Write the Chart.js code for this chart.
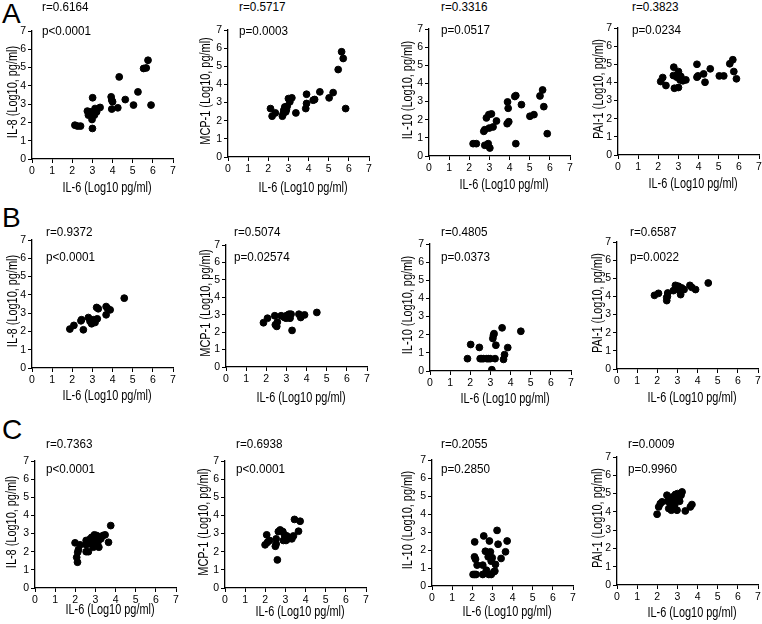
<!DOCTYPE html>
<html>
<head>
<meta charset="utf-8">
<script src="https://cdn.jsdelivr.net/npm/chart.js@4.4.1/dist/chart.umd.min.js"></script>
<style>
  html, body { margin: 0; padding: 0; background: #fff; overflow: hidden; }
  #fig { position: relative; width: 762px; height: 624px; }
  #fig canvas { position: absolute; }
  .txt, .title { position: absolute; font-family: 'Liberation Sans', Arial, sans-serif; line-height: 16px; color: #000; white-space: nowrap; }
  .txt { font-size: 13px; transform-origin: 0 50%; transform: scaleX(0.9); }
  .title { font-size: 14px; }
  .letter { position: absolute; font-family: 'Liberation Sans', Arial, sans-serif; font-size: 28px; line-height: 28px; color: #000; }
</style>
</head>
<body>
<div id="fig"></div>
<script>
// x = IL-6, y = cytokine (both Log10 pg/ml)
const A_IL8 = [[2.13,1.85],[2.26,1.8],[2.41,1.8],[2.75,2.62],[2.8,2.4],[2.88,2.58],[2.91,2.49],[2.98,2.16],[3.0,1.67],[3.01,3.35],[3.05,2.58],[3.1,2.4],[3.13,2.76],[3.21,2.58],[3.38,2.82],[3.93,3.4],[3.96,3.22],[4.0,3.13],[3.96,2.73],[4.26,2.8],[4.33,4.49],[4.63,3.25],[5.04,2.95],[5.26,3.67],[5.54,4.95],[5.67,4.98],[5.76,5.4],[5.91,2.95]]
const A_MCP1 = [[2.11,2.67],[2.19,2.25],[2.35,2.43],[2.7,2.25],[2.74,2.39],[2.77,2.58],[2.82,2.76],[2.87,2.49],[2.9,2.62],[2.94,2.8],[3.0,3.22],[3.07,3.04],[3.17,3.26],[3.37,2.43],[3.86,2.67],[3.9,3.46],[3.9,2.95],[4.23,3.13],[4.3,3.17],[4.56,3.59],[5.02,3.26],[5.22,3.55],[5.47,4.82],[5.64,5.8],[5.72,5.43],[5.84,2.67]]
const A_IL10 = [[2.19,0.68],[2.35,0.68],[2.72,1.36],[2.77,1.45],[2.77,0.59],[2.85,2.1],[2.94,0.68],[2.97,2.28],[2.99,1.54],[3.02,0.44],[3.1,2.32],[3.18,1.6],[3.35,1.93],[3.88,1.78],[3.9,2.98],[3.93,2.63],[3.96,1.89],[4.26,3.28],[4.31,3.33],[4.31,0.68],[4.59,2.83],[5.01,2.19],[5.21,2.28],[5.51,3.31],[5.64,3.64],[5.7,2.72],[5.87,1.23]]
const A_PAI1 = [[2.12,4.05],[2.22,4.27],[2.38,3.83],[2.75,4.38],[2.77,4.84],[2.8,3.68],[2.92,4.29],[3.0,4.6],[3.03,4.42],[3.0,3.72],[3.08,4.14],[3.12,4.33],[3.22,4.09],[3.37,4.14],[3.92,5.0],[3.92,4.29],[3.97,4.36],[4.25,4.47],[4.32,4.01],[4.58,4.75],[5.03,4.36],[5.25,4.36],[5.55,5.03],[5.7,5.25],[5.75,4.6],[5.88,4.2]]

const B_IL8 = [[1.88,2.13],[2.08,2.33],[2.43,2.58],[2.46,2.64],[2.55,2.09],[2.8,2.76],[2.88,2.55],[2.96,2.42],[3.05,2.64],[3.13,2.49],[3.24,2.69],[3.21,3.31],[3.29,3.24],[3.68,2.91],[3.68,3.36],[3.74,3.27],[3.88,3.18],[4.58,3.82]]
const B_MCP1 = [[1.86,2.54],[2.06,2.8],[2.42,2.94],[2.45,2.42],[2.52,2.33],[2.55,2.58],[2.74,2.94],[2.9,2.84],[2.99,2.8],[3.02,2.96],[3.13,3.03],[3.18,2.8],[3.23,3.03],[3.28,2.1],[3.62,3.03],[3.71,2.84],[3.9,2.99],[4.51,3.13]]
const B_IL10 = [[1.86,0.68],[2.02,1.46],[2.45,1.3],[2.49,0.68],[2.57,0.68],[2.65,0.68],[2.82,0.68],[2.9,0.68],[2.99,0.68],[3.07,0.07],[3.12,1.79],[3.15,1.97],[3.18,2.06],[3.23,0.68],[3.27,1.42],[3.58,2.38],[3.65,0.64],[3.7,0.9],[3.86,1.29],[4.51,2.19]]
const B_PAI1 = [[1.86,4.06],[2.06,4.17],[2.47,3.77],[2.47,3.94],[2.5,4.0],[2.52,4.19],[2.8,4.32],[2.9,4.61],[3.05,4.56],[3.1,4.32],[3.16,4.1],[3.21,4.47],[3.33,4.38],[3.62,4.61],[3.71,4.5],[3.9,4.38],[4.53,4.74]]

const C_IL8 = [[1.99,2.49],[2.07,1.69],[2.11,1.42],[2.12,1.97],[2.16,2.12],[2.24,2.38],[2.54,2.62],[2.54,2.38],[2.54,2.0],[2.65,2.0],[2.74,2.71],[2.77,2.43],[2.82,2.8],[2.87,2.43],[2.9,2.25],[2.95,2.93],[2.99,2.62],[3.03,2.8],[3.07,2.89],[3.12,2.52],[3.17,2.25],[3.27,2.71],[3.37,2.89],[3.48,2.93],[3.65,2.52],[3.76,3.44]]
const C_MCP1 = [[1.99,2.38],[2.07,2.93],[2.11,2.52],[2.21,2.62],[2.5,2.3],[2.54,2.71],[2.54,2.43],[2.6,1.55],[2.65,3.11],[2.74,3.2],[2.87,3.11],[2.9,2.62],[2.95,2.93],[3.03,2.62],[3.07,2.87],[3.15,2.71],[3.23,2.76],[3.32,2.71],[3.4,2.87],[3.45,3.78],[3.65,3.13],[3.73,3.68]]
const C_IL10 = [[2.04,0.64],[2.12,0.64],[2.19,0.64],[2.12,2.45],[2.11,1.62],[2.16,1.49],[2.24,1.16],[2.52,1.16],[2.52,0.64],[2.57,2.78],[2.65,1.93],[2.7,0.88],[2.79,1.62],[2.85,2.5],[2.9,1.9],[2.94,1.38],[2.99,1.57],[2.82,0.64],[2.94,0.64],[3.07,0.79],[3.12,0.83],[3.15,1.2],[3.23,3.09],[3.28,2.32],[3.43,1.53],[3.65,1.9],[3.73,2.5]]
const C_PAI1 = [[1.99,3.87],[2.07,4.27],[2.15,4.45],[2.24,4.55],[2.48,4.91],[2.52,4.58],[2.57,4.18],[2.62,4.69],[2.65,4.45],[2.7,4.09],[2.73,4.33],[2.76,4.82],[2.81,4.55],[2.86,4.36],[2.9,4.95],[2.95,4.69],[2.98,4.09],[3.01,5.0],[3.06,4.76],[3.11,4.58],[3.18,4.91],[3.23,5.09],[3.39,4.05],[3.64,4.27],[3.72,4.4]]

const yTitles = ["IL-8 (Log10, pg/ml)", "MCP-1 (Log10, pg/ml)", "IL-10 (Log10, pg/ml)", "PAI-1 (Log10, pg/ml)"]
const xTitle = "IL-6 (Log10 pg/ml)"
const tickValues = [0, 1, 2, 3, 4, 5, 6, 7]
const rowLetters = ["A", "B", "C"]
const rValues = [["0.6164", "0.5717", "0.3316", "0.3823"], ["0.9372", "0.5074", "0.4805", "0.6587"], ["0.7363", "0.6938", "0.2055", "0.0009"]]
const pValues = [["<0.0001", "=0.0003", "=0.0517", "=0.0234"], ["<0.0001", "=0.02574", "=0.0373", "=0.0022"], ["<0.0001", "<0.0001", "=0.2850", "=0.9960"]]
const series = [[A_IL8, A_MCP1, A_IL10, A_PAI1], [B_IL8, B_MCP1, B_IL10, B_PAI1], [C_IL8, C_MCP1, C_IL10, C_PAI1]]

// panel geometry: plot left, top, bottom, y-title centre x, x-title centre y, stats text x / y
const panels = [
  [{L:32,T:31,B:159,yt:12,xt:187,tx:42,ry:7,py:31}, {L:228,T:30,B:157,yt:205,xt:187,tx:239,ry:7,py:31}, {L:429,T:29,B:156,yt:407,xt:184,tx:441,ry:7,py:30}, {L:618,T:28,B:155,yt:598,xt:183,tx:632,ry:7,py:30}],
  [{L:32,T:240,B:368,yt:12,xt:395,tx:46,ry:232,py:257}, {L:226,T:245,B:367,yt:205,xt:397,tx:234,ry:232,py:257}, {L:430,T:244,B:371,yt:407,xt:398,tx:441,ry:232,py:257}, {L:617,T:242,B:369,yt:597,xt:397,tx:630,ry:232,py:257}],
  [{L:35,T:461,B:588,yt:11,xt:609,tx:46,ry:444,py:469}, {L:225,T:461,B:588,yt:203,xt:611,tx:236,ry:444,py:469}, {L:432,T:460,B:586,yt:407,xt:611,tx:441,ry:444,py:469}, {L:617,T:457,B:585,yt:597,xt:612,tx:628,ry:444,py:469}]
]
const letterPos = [[2, 0], [2, 204], [2, 416]]

const FONT = "'Liberation Sans', Arial, sans-serif"
const PLOT_W = 141
const SQUEEZE = 0.78
const fig = document.getElementById("fig")

function addText(cls, text, x, y, transform) {
  const d = document.createElement("div")
  d.className = cls
  d.textContent = text
  d.style.left = x + "px"
  d.style.top = y + "px"
  if (transform) d.style.transform = transform
  fig.appendChild(d)
  return d
}

rowLetters.forEach((l, r) => addText("letter", l, letterPos[r][0], letterPos[r][1]))

series.forEach((row, r) => {
  row.forEach((pts, c) => {
    const g = panels[r][c]
    const left = g.yt - 14
    const yW = g.L - left
    const xH = 30
    const padTop = 10
    const canvas = document.createElement("canvas")
    canvas.width = yW + PLOT_W + 8
    canvas.height = padTop + (g.B - g.T) + xH
    canvas.style.left = left + "px"
    canvas.style.top = (g.T - padTop) + "px"
    fig.appendChild(canvas)

    const axis = (fit) => ({
      type: "linear",
      min: 0,
      max: 7,
      afterBuildTicks: (s) => { s.ticks = tickValues.map(v => ({ value: v })) },
      ticks: { color: "#000", padding: 2, maxRotation: 0, font: { family: FONT, size: 10.5 } },
      grid: { drawOnChartArea: false, drawTicks: true, tickLength: 4, color: "#000", lineWidth: 1 },
      border: { color: "#000", width: 1.3 },
      title: { display: false },
      afterFit: fit
    })

    new Chart(canvas.getContext("2d"), {
      type: "scatter",
      data: {
        datasets: [{
          data: pts.map(([x, y]) => ({ x, y })),
          backgroundColor: "#000",
          borderColor: "#000",
          pointRadius: 3.4,
          pointHoverRadius: 3.4
        }]
      },
      options: {
        responsive: false,
        animation: false,
        events: [],
        layout: { padding: { top: padTop, right: 8, left: 0, bottom: 0 } },
        plugins: { legend: { display: false }, tooltip: { enabled: false } },
        scales: {
          x: axis((s) => { s.height = xH }),
          y: axis((s) => { s.width = yW })
        }
      }
    })

    // axis titles, condensed like the original figure font
    addText("title", xTitle, g.L + PLOT_W / 2 + 4, g.xt,
      "translate(-50%, -50%) scaleX(" + SQUEEZE + ")")
    addText("title", yTitles[c], g.yt, (g.T + g.B) / 2 - 3,
      "translate(-50%, -50%) rotate(-90deg) scaleX(" + SQUEEZE + ")")

    addText("txt", "r=" + rValues[r][c], g.tx, g.ry - 8)
    addText("txt", "p" + pValues[r][c], g.tx, g.py - 8)
  })
})
</script>
</body>
</html>
